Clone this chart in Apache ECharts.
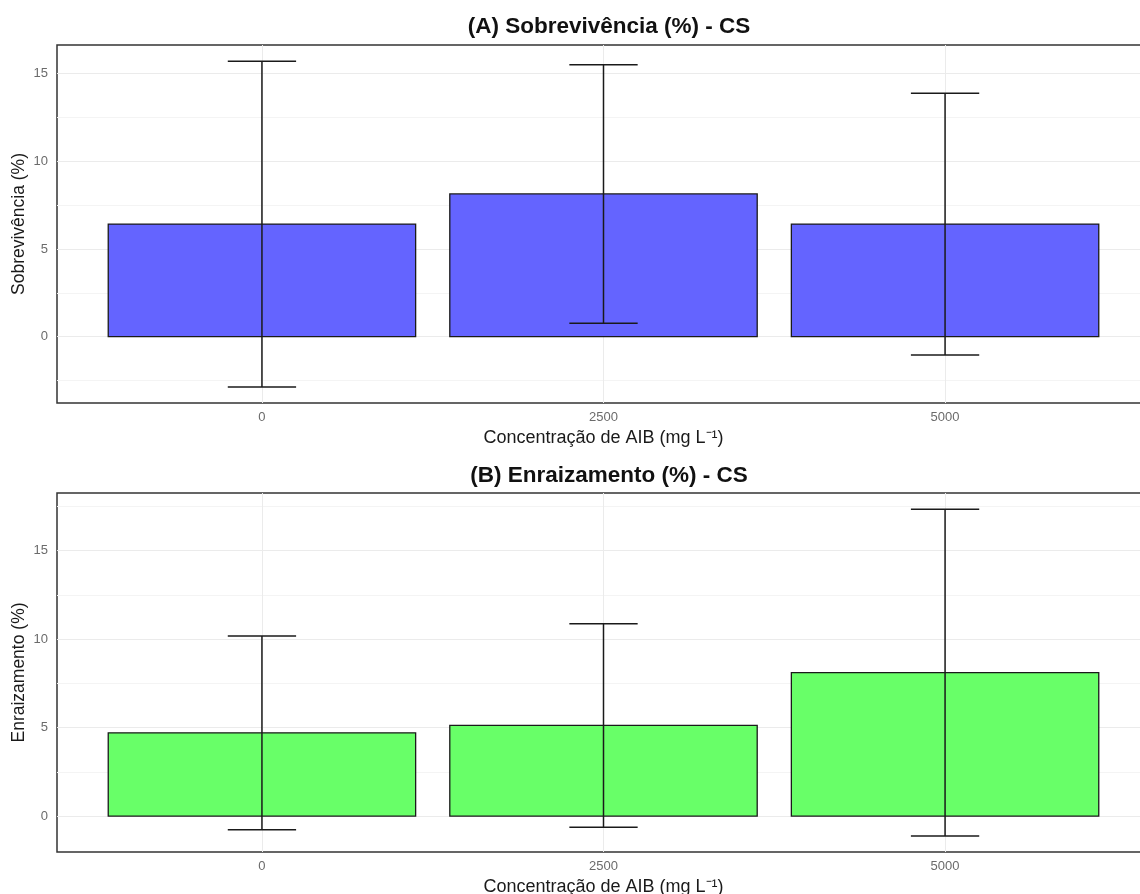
<!DOCTYPE html>
<html>
<head>
<meta charset="utf-8">
<script src="https://cdn.jsdelivr.net/npm/echarts@6/dist/echarts.min.js"></script>
<style>
  html, body { margin: 0; padding: 0; background: #fff; }
  #mychart { width: 1140px; height: 894px; }
</style>
</head>
<body>
<div id="mychart"></div>
<script>
"use strict";
// categories (AIB concentration)
const concentracoes = ['0', '2500', '5000'];
const posicoes = [0, 1, 2];
// panel A - survival, mean and error half-width
const sobrevMedia = [6.42, 8.14, 6.42];
const sobrevErro = [9.29, 7.37, 7.46];
// panel B - rooting
const enraizMedia = [4.70, 5.12, 8.10];
const enraizErro = [5.47, 5.75, 9.23];
// tick values
const ticksMaiores = [0, 5, 10, 15];
const ticksMenoresA = [-2.5, 2.5, 7.5, 12.5];
const ticksMenoresB = [2.5, 7.5, 12.5, 17.5];

const container = document.getElementById('mychart');
const myChart = echarts.init(container);

const fonte = 'Liberation Sans, Arial, sans-serif';
const corTick = '#6b6b6b';

function barras(medias) {
    return medias.map((m, i) => [posicoes[i], m]);
}
function erros(medias, errs) {
    return medias.map((m, i) => [posicoes[i], m - errs[i], m + errs[i]]);
}

function renderBarra(params, api) {
    const x = api.value(0);
    const y = api.value(1);
    const p0 = api.coord([x - 0.45, y]);
    const p1 = api.coord([x + 0.45, 0]);
    return {
        type: 'rect',
        shape: { x: p0[0], y: p0[1], width: p1[0] - p0[0], height: p1[1] - p0[1] },
        style: api.style({ fill: api.visual('color'), stroke: '#1a1a1a', lineWidth: 1.3 })
    };
}

function renderErro(params, api) {
    const x = api.value(0);
    const lo = api.coord([x, api.value(1)]);
    const hi = api.coord([x, api.value(2)]);
    const l = api.coord([x - 0.1, 0])[0];
    const r = api.coord([x + 0.1, 0])[0];
    const st = { stroke: '#1a1a1a', lineWidth: 1.5 };
    return {
        type: 'group',
        children: [
            { type: 'line', shape: { x1: lo[0], y1: lo[1], x2: hi[0], y2: hi[1] }, style: st },
            { type: 'line', shape: { x1: l, y1: hi[1], x2: r, y2: hi[1] }, style: st },
            { type: 'line', shape: { x1: l, y1: lo[1], x2: r, y2: lo[1] }, style: st }
        ]
    };
}

function eixoX(grid) {
    return {
        type: 'value', gridIndex: grid, min: -0.6, max: 2.6,
        name: 'Concentração de AIB (mg L⁻¹)', nameLocation: 'middle', nameGap: 26,
        nameTextStyle: { fontFamily: fonte, fontSize: 18, color: '#1a1a1a' },
        axisLine: { show: false },
        axisTick: { show: false, customValues: posicoes },
        axisLabel: {
            customValues: posicoes, formatter: v => concentracoes[v],
            fontFamily: fonte, fontSize: 13, color: corTick, margin: 8
        },
        splitLine: { show: true, lineStyle: { color: '#ebebeb', width: 1 } }
    };
}

function eixoY(grid, min, max, nome) {
    return {
        type: 'value', gridIndex: grid, position: 'left', min: min, max: max,
        name: nome, nameLocation: 'middle', nameGap: 29, nameMoveOverlap: false,
        nameTextStyle: { fontFamily: fonte, fontSize: 17.5, color: '#1a1a1a' },
        axisLine: { show: false },
        axisTick: { show: false, customValues: ticksMaiores },
        axisLabel: { customValues: ticksMaiores, fontFamily: fonte, fontSize: 13, color: corTick, margin: 9 },
        splitLine: { show: true, lineStyle: { color: '#ebebeb', width: 1 } }
    };
}

function eixoYMenor(grid, min, max, ticks) {
    return {
        type: 'value', gridIndex: grid, position: 'left', min: min, max: max,
        axisLine: { show: false },
        axisTick: { show: false, customValues: ticks },
        axisLabel: { show: false },
        splitLine: { show: true, lineStyle: { color: '#f4f4f4', width: 1 } }
    };
}

const option = {
    backgroundColor: '#fff',
    animation: false,
    title: [
        {
            text: '(A) Sobrevivência (%) - CS', left: 604, top: 10, textAlign: 'center',
            textStyle: { fontFamily: fonte, fontSize: 22.5, fontWeight: 'bold', color: '#111' }
        },
        {
            text: '(B) Enraizamento (%) - CS', left: 604, top: 459, textAlign: 'center',
            textStyle: { fontFamily: fonte, fontSize: 22.5, fontWeight: 'bold', color: '#111' }
        }
    ],
    grid: [
        {
            left: 57, right: -10, top: 45, height: 358, outerBoundsMode: 'none', containLabel: false,
            show: true, borderColor: '#333', borderWidth: 1.5, backgroundColor: 'transparent'
        },
        {
            left: 57, right: -10, top: 493, height: 359, outerBoundsMode: 'none', containLabel: false,
            show: true, borderColor: '#333', borderWidth: 1.5, backgroundColor: 'transparent'
        }
    ],
    xAxis: [eixoX(0), eixoX(1)],
    yAxis: [
        eixoYMenor(0, -3.78, 16.63, ticksMenoresA),
        eixoY(0, -3.78, 16.63, 'Sobrevivência (%)'),
        eixoYMenor(1, -2.03, 18.25, ticksMenoresB),
        eixoY(1, -2.03, 18.25, 'Enraizamento (%)')
    ],
    series: [
        {
            type: 'custom', xAxisIndex: 0, yAxisIndex: 1, renderItem: renderBarra,
            itemStyle: { color: '#6464ff' }, data: barras(sobrevMedia), z: 2
        },
        {
            type: 'custom', xAxisIndex: 0, yAxisIndex: 1, renderItem: renderErro,
            data: erros(sobrevMedia, sobrevErro), z: 3
        },
        {
            type: 'custom', xAxisIndex: 1, yAxisIndex: 3, renderItem: renderBarra,
            itemStyle: { color: '#68ff68' }, data: barras(enraizMedia), z: 2
        },
        {
            type: 'custom', xAxisIndex: 1, yAxisIndex: 3, renderItem: renderErro,
            data: erros(enraizMedia, enraizErro), z: 3
        }
    ]
};
myChart.setOption(option);
</script>
</body>
</html>
